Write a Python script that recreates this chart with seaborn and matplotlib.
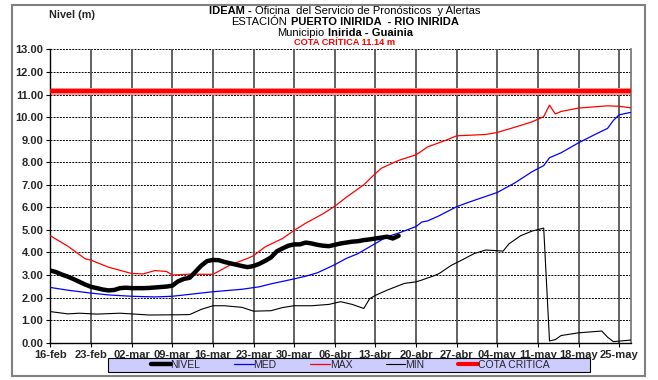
import matplotlib
matplotlib.use("Agg")
import matplotlib.pyplot as plt
import seaborn as sns
import pandas as pd
from matplotlib.patches import Rectangle
from matplotlib.offsetbox import TextArea, HPacker, AnnotationBbox

sns.set_theme(style="white")
plt.rcParams["font.family"] = ["Liberation Sans", "DejaVu Sans"]

# Daily level (days counted from 16-feb)
nivel_day = list(range(0, 61))
nivel_val = [3.20, 3.13, 3.02, 2.93, 2.82, 2.70, 2.58, 2.48, 2.42, 2.36,
             2.32, 2.34, 2.42, 2.44, 2.42, 2.42, 2.42, 2.43, 2.45, 2.47,
             2.49, 2.53, 2.72, 2.83, 2.88, 3.15, 3.42, 3.62, 3.67, 3.66,
             3.58, 3.52, 3.46, 3.40, 3.35, 3.40, 3.50, 3.63, 3.78, 4.05,
             4.18, 4.30, 4.36, 4.36, 4.44, 4.40, 4.34, 4.30, 4.28, 4.34,
             4.40, 4.44, 4.48, 4.50, 4.55, 4.58, 4.62, 4.66, 4.70, 4.62, 4.74]

# Historical mean
med_day = [0, 3, 7, 10, 14, 18, 21, 28, 33, 36, 38, 42, 44, 46, 49, 51, 53, 56,
           58, 60, 63, 64, 65, 67, 70, 72, 77, 80, 83, 85, 86, 88, 91, 94, 96,
           97, 98, 100]
med_val = [2.45, 2.33, 2.20, 2.12, 2.06, 2.03, 2.06, 2.26, 2.37, 2.48, 2.61,
           2.83, 2.95, 3.10, 3.46, 3.74, 3.95, 4.40, 4.70, 4.86, 5.15, 5.35,
           5.40, 5.63, 6.03, 6.22, 6.66, 7.08, 7.58, 7.85, 8.20, 8.42, 8.86,
           9.25, 9.50, 9.85, 10.10, 10.21]

# Historical maximum
max_day = [0, 3, 6, 7, 10, 14, 16, 18, 20, 21, 24, 28, 31, 34, 35, 37, 40, 42,
           44, 47, 49, 51, 54, 56, 57, 60, 63, 64, 65, 68, 70, 75, 77, 80, 83,
           85, 86, 87, 88, 91, 96, 98, 100]
max_val = [4.74, 4.28, 3.72, 3.66, 3.35, 3.07, 3.05, 3.20, 3.16, 3.00, 3.04,
           3.03, 3.45, 3.74, 3.86, 4.25, 4.62, 4.98, 5.30, 5.72, 6.05, 6.45,
           7.00, 7.50, 7.73, 8.08, 8.33, 8.50, 8.68, 8.96, 9.17, 9.23, 9.32,
           9.55, 9.79, 10.02, 10.53, 10.14, 10.25, 10.40, 10.50, 10.48, 10.41]

# Historical minimum
min_day = [0, 3, 5, 8, 12, 17, 22, 24, 26, 28, 30, 33, 35, 38, 40, 42, 45, 48,
           50, 52, 54, 55, 56, 58, 61, 63, 64, 66, 67, 69, 71, 73, 75, 77, 78,
           79, 81, 83, 85, 86, 87, 88, 91, 95, 96, 97, 100]
min_val = [1.38, 1.28, 1.31, 1.27, 1.31, 1.23, 1.24, 1.25, 1.48, 1.64, 1.64,
           1.57, 1.40, 1.42, 1.56, 1.64, 1.64, 1.70, 1.82, 1.70, 1.52, 1.95,
           2.10, 2.33, 2.63, 2.70, 2.78, 2.96, 3.07, 3.42, 3.68, 3.95, 4.11,
           4.08, 4.06, 4.38, 4.74, 4.95, 5.08, 0.08, 0.14, 0.32, 0.44, 0.52,
           0.25, 0.05, 0.12]

cota_critica = 11.14
cota_day = [0, 100]

tick_days = [0, 7, 14, 21, 28, 35, 42, 49, 56, 63, 70, 77, 84, 91, 98]
tick_labels = ["16-feb", "23-feb", "02-mar", "09-mar", "16-mar", "23-mar",
               "30-mar", "06-abr", "13-abr", "20-abr", "27-abr", "04-may",
               "11-may", "18-may", "25-may"]

fig = plt.figure(figsize=(6.58, 3.80), dpi=100)
ax = fig.add_axes([0.0766, 0.098, 0.882, 0.772])

# grid
for yv in range(0, 14):
    ax.axhline(yv, color="black", lw=0.7, ls=(0, (2, 1.2)), zorder=1)
for xv in tick_days:
    ax.axvline(xv, color="#555555", lw=1.3, zorder=1)

cota_df = pd.DataFrame({"d": cota_day, "v": [cota_critica] * 2})
sns.lineplot(data=cota_df, x="d", y="v", ax=ax, color="#ff9999", lw=5, zorder=2)
sns.lineplot(data=cota_df, x="d", y="v", ax=ax, color="#ff0000", lw=3,
             zorder=3, label="COTA CRITICA")

sns.lineplot(data=pd.DataFrame({"d": min_day, "v": min_val}), x="d", y="v",
             ax=ax, color="black", lw=0.8, zorder=4, label="MIN")
sns.lineplot(data=pd.DataFrame({"d": max_day, "v": max_val}), x="d", y="v",
             ax=ax, color="#ff0000", lw=0.9, zorder=4, label="MAX")
sns.lineplot(data=pd.DataFrame({"d": med_day, "v": med_val}), x="d", y="v",
             ax=ax, color="#0000ff", lw=0.9, zorder=4, label="MED")
sns.lineplot(data=pd.DataFrame({"d": nivel_day, "v": nivel_val}), x="d", y="v",
             ax=ax, color="black", lw=3.2, zorder=5, label="NIVEL")

ax.set_xlim(0, 100)
ax.set_ylim(0, 13)
ax.set_xlabel("")
ax.set_ylabel("")
ax.set_xticks(tick_days)
ax.set_xticklabels(tick_labels, fontsize=8, fontweight="bold")
ax.set_yticks(range(0, 14))
ax.set_yticklabels([f"{v:.2f}" for v in range(0, 14)], fontsize=8,
                   fontweight="bold")
ax.tick_params(axis="both", length=3, width=0.8, color="black", pad=2,
               direction="out", bottom=True, left=True)
ax.spines["top"].set_visible(False)
ax.spines["right"].set_color("#777777")
for side in ["left", "bottom"]:
    ax.spines[side].set_color("black")
    ax.spines[side].set_linewidth(1.0)

# legend on a lavender band below the axes
handles, labels = ax.get_legend_handles_labels()
ax.get_legend().remove()
order = ["NIVEL", "MED", "MAX", "MIN", "COTA CRITICA"]
hmap = dict(zip(labels, handles))
band = Rectangle((108 / 658, 8 / 380), 482 / 658, 14 / 380,
                 transform=fig.transFigure, facecolor="#ccccff",
                 edgecolor="black", lw=0.8, zorder=1)
fig.add_artist(band)
leg = fig.legend([hmap[k] for k in order], order, ncol=5,
                 loc="center", bbox_to_anchor=(350 / 658, 15 / 380),
                 bbox_transform=fig.transFigure, fontsize=7.5, frameon=False,
                 handlelength=1.9, handletextpad=0.0, columnspacing=3.2,
                 borderpad=0, borderaxespad=0)
leg.set_zorder(5)


def centered_line(y_px, parts, size=8.0, color="black"):
    boxes = [TextArea(t, textprops=dict(fontsize=size, fontweight=w, color=color))
             for t, w in parts]
    pack = HPacker(children=boxes, align="baseline", pad=0, sep=2.5)
    ab = AnnotationBbox(pack, (345 / 658, 1 - y_px / 380),
                        xycoords="figure fraction", frameon=False,
                        box_alignment=(0.5, 0.5), pad=0)
    fig.add_artist(ab)


centered_line(11, [("IDEAM -", "bold"),
                   ("Oficina  del Servicio de Pronósticos  y Alertas", "normal")])
centered_line(22, [("ESTACIÓN", "normal"),
                   ("PUERTO INIRIDA  - RIO INIRIDA", "bold")])
centered_line(32.5, [("Municipio", "normal"), ("Inirida - Guainia", "bold")])
centered_line(42.5, [("COTA CRÍTICA 11.14 m", "bold")], size=6.7, color="#ff0000")
fig.text(72 / 658, 1 - 14.5 / 380, "Nivel (m)", ha="center", va="center",
         fontsize=7.8, fontweight="bold")

# outer frame
fig.add_artist(Rectangle((12 / 658, 4 / 380), 633 / 658, 371 / 380,
                         transform=fig.transFigure, fill=False,
                         edgecolor="#808080", lw=1.5))

fig.savefig("out.png", dpi=100)
